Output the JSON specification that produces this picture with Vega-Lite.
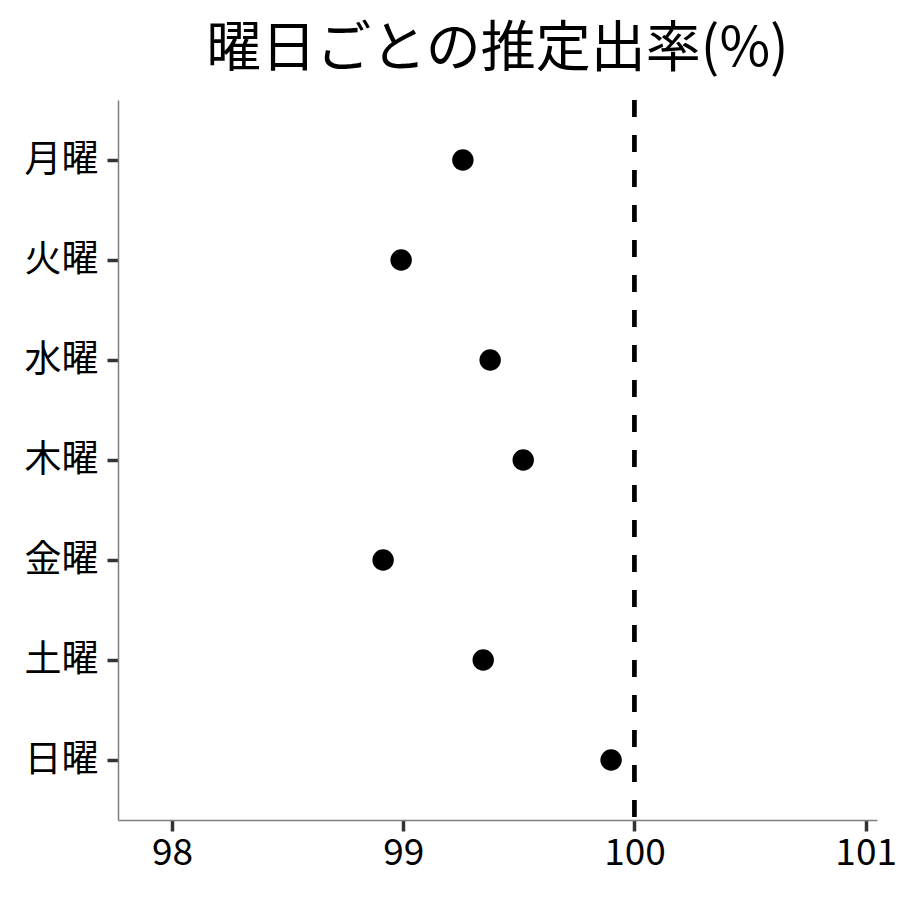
{
  "$schema": "https://vega.github.io/schema/vega-lite/v6.json",
  "autosize": "none",
  "padding": {"left": 118, "top": 100, "right": 23, "bottom": 80},
  "width": 759,
  "height": 720,
  "title": {
    "text": "曜日ごとの推定出率(%)",
    "fontSize": 55,
    "fontWeight": "normal",
    "font": "Noto Sans CJK JP",
    "color": "#000000",
    "anchor": "middle",
    "offset": 20
  },
  "config": {
    "view": {"stroke": null},
    "axis": {
      "grid": false,
      "domainColor": "#7f7f7f",
      "domainWidth": 1.5,
      "tickColor": "#333333",
      "tickWidth": 3.5,
      "tickSize": 11,
      "labelFont": "Noto Sans CJK JP",
      "labelFontSize": 37,
      "labelColor": "#000000",
      "title": null
    }
  },
  "data": {
    "values": [
      {"day": "月曜", "rate": 99.258},
      {"day": "火曜", "rate": 98.991},
      {"day": "水曜", "rate": 99.376},
      {"day": "木曜", "rate": 99.519},
      {"day": "金曜", "rate": 98.913},
      {"day": "土曜", "rate": 99.346},
      {"day": "日曜", "rate": 99.899}
    ]
  },
  "layer": [
    {
      "mark": {"type": "rule", "color": "#000000", "strokeWidth": 3.5, "strokeDash": [17, 18]},
      "encoding": {"x": {"datum": 100, "type": "quantitative"}}
    },
    {
      "mark": {"type": "circle", "color": "#000000", "opacity": 1, "size": 460},
      "encoding": {
        "x": {
          "field": "rate",
          "type": "quantitative",
          "scale": {"domain": [97.7665, 101.049], "nice": false, "zero": false},
          "axis": {"values": [98, 99, 100, 101], "format": "d", "labelPadding": 4}
        },
        "y": {
          "field": "day",
          "type": "nominal",
          "sort": ["月曜", "火曜", "水曜", "木曜", "金曜", "土曜", "日曜"],
          "scale": {"type": "point", "padding": 0.6},
          "axis": {"labelPadding": 9}
        }
      }
    }
  ]
}
